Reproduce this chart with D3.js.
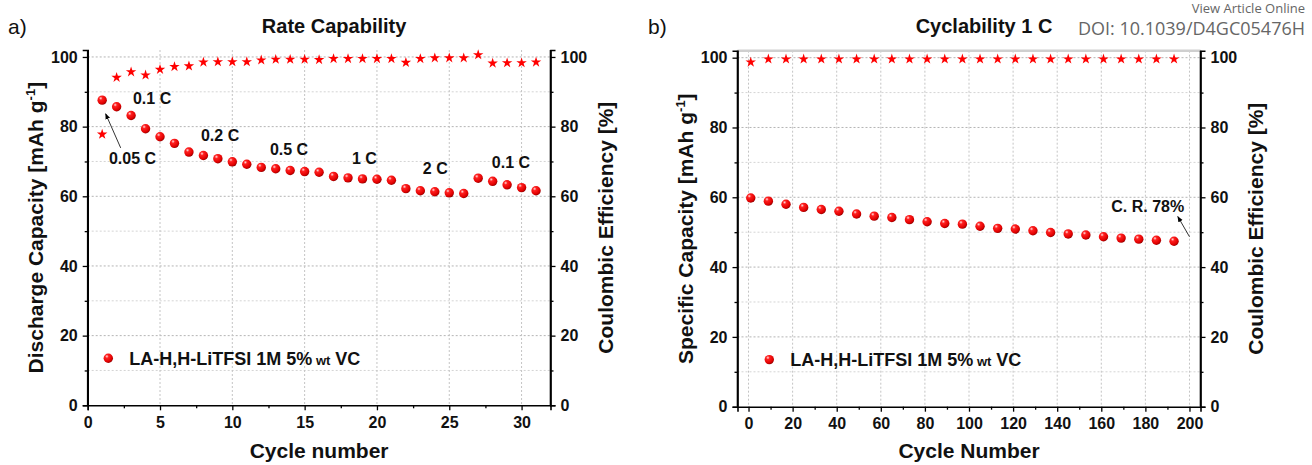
<!DOCTYPE html>
<html lang="en">
<head>
<meta charset="UTF-8">
<title>Rate Capability / Cyclability</title>
<style>
    body { margin: 0; background: #fff; }
    svg text { font-family: "Liberation Sans", Arial, sans-serif; }
</style>
</head>
<body>
<svg id="chart" width="1312" height="465"></svg>
<script src="https://cdn.jsdelivr.net/npm/d3@7"></script>
<script>
    // ---- data ----
    const rateCycles = [1, 2, 3, 4, 5, 6, 7, 8, 9, 10, 11, 12, 13, 14, 15, 16,
        17, 18, 19, 20, 21, 22, 23, 24, 25, 26, 27, 28, 29, 30, 31];
    const rateCapacity = [87.6, 85.7, 83.2, 79.4, 77.1, 75.2, 72.7, 71.7, 70.8, 69.9, 69.2,
        68.3, 67.9, 67.4, 67.1, 66.9, 65.7, 65.3, 65.0, 64.9, 64.6,
        62.2, 61.6, 61.3, 61.0, 60.8, 65.2, 64.3, 63.3, 62.5, 61.6];
    const rateCE = [77.8, 94.1, 95.7, 94.8, 96.4, 97.2, 97.4, 98.5, 98.6, 98.6, 98.6,
        99.1, 99.3, 99.3, 99.3, 99.2, 99.5, 99.5, 99.5, 99.5, 99.5,
        98.4, 99.5, 99.7, 99.7, 99.7, 100.6, 98.2, 98.3, 98.3, 98.5];
    const rateLabels = ["0.1 C", "0.2 C", "0.5 C", "1 C", "2 C", "0.1 C", "0.05 C"];
    const rateLabelAt = [[3.13, 86.4], [7.83, 76.0], [12.6, 72.0], [18.27, 69.4],
        [23.17, 66.3], [27.94, 68.0], [1.47, 69.4]];

    const cycCycles = [1, 9, 17, 25, 33, 41, 49, 57, 65, 73, 81, 89, 97, 105, 113,
        121, 129, 137, 145, 153, 161, 169, 177, 185, 193];
    const cycCapacity = [59.8, 58.9, 58.0, 57.1, 56.5, 56.0, 55.2, 54.6, 54.2, 53.6, 53.0,
        52.5, 52.3, 51.7, 51.1, 50.9, 50.4, 49.9, 49.5, 49.2, 48.7, 48.3, 48.0, 47.7, 47.4];
    const cycCE = [98.7, 99.6, 99.6, 99.6, 99.6, 99.6, 99.6, 99.6, 99.6, 99.6, 99.6,
        99.6, 99.6, 99.6, 99.6, 99.6, 99.6, 99.6, 99.6, 99.6, 99.6, 99.6, 99.6, 99.6, 99.6];

    const yTicks = [0, 20, 40, 60, 80, 100];
    const yMinor = [10, 30, 50, 70, 90];
    const rateXTicks = [0, 5, 10, 15, 20, 25, 30];
    const rateXMinor = [2.5, 7.5, 12.5, 17.5, 22.5, 27.5];
    const cycXTicks = [0, 20, 40, 60, 80, 100, 120, 140, 160, 180, 200];
    const cycXMinor = [10, 30, 50, 70, 90, 110, 130, 150, 170, 190];
    const legendText = "LA-H,H-LiTFSI 1M 5%";

    const svg = d3.select("#chart");
    const defs = svg.append("defs");

    const grad = defs.append("radialGradient").attr("id", "ball")
        .attr("cx", "35%").attr("cy", "30%").attr("r", "75%");
    grad.append("stop").attr("offset", "0%").attr("stop-color", "#ffe0e0");
    grad.append("stop").attr("offset", "25%").attr("stop-color", "#ff2020");
    grad.append("stop").attr("offset", "75%").attr("stop-color", "#e00000");
    grad.append("stop").attr("offset", "100%").attr("stop-color", "#8a0000");

    defs.append("marker").attr("id", "arrow")
        .attr("viewBox", "0 0 10 10").attr("refX", 9).attr("refY", 5)
        .attr("markerWidth", 6).attr("markerHeight", 6)
        .attr("markerUnits", "userSpaceOnUse")
        .attr("orient", "auto")
        .append("path").attr("d", "M0,1 L10,5 L0,9 Z").attr("fill", "#000");

    const star = d3.symbol().type(d3.symbolStar).size(34);

    function panel(o) {
        const x = d3.scaleLinear().domain(o.xDomain).range([o.left, o.right]);
        const y = d3.scaleLinear().domain([0, 102]).range([o.bottom, o.top]);
        const g = svg.append("g");

        // grid
        g.append("g").selectAll("line").data(yMinor).join("line")
            .attr("x1", o.left).attr("x2", o.right)
            .attr("y1", d => y(d)).attr("y2", d => y(d))
            .attr("stroke", "#d4d4d4").attr("stroke-dasharray", "2,2");
        g.append("g").selectAll("line").data(yTicks.slice(1)).join("line")
            .attr("x1", o.left).attr("x2", o.right)
            .attr("y1", d => y(d)).attr("y2", d => y(d))
            .attr("stroke", "#b4b4b4").attr("stroke-dasharray", "2,2");
        g.append("g").selectAll("line").data(o.xTicks.filter(d => x(d) > o.left + 1)).join("line")
            .attr("x1", d => x(d)).attr("x2", d => x(d))
            .attr("y1", o.top).attr("y2", o.bottom)
            .attr("stroke", "#c4c4c4").attr("stroke-dasharray", "2,2");

        if (o.topBorder) {
            g.append("line").attr("x1", o.left).attr("x2", o.right)
                .attr("y1", o.top).attr("y2", o.top)
                .attr("stroke", "#cfcfcf").attr("stroke-width", 2.5);
        }

        // axes
        const fmt = d3.format("d");
        const axes = [
            [d3.axisBottom(x).tickValues(o.xTicks).tickSize(5).tickPadding(6).tickFormat(fmt), `translate(0,${o.bottom})`, true],
            [d3.axisBottom(x).tickValues(o.xMinor).tickSize(3).tickFormat(""), `translate(0,${o.bottom})`, false],
            [d3.axisLeft(y).tickValues(yTicks).tickSize(5).tickPadding(5).tickFormat(fmt), `translate(${o.left},0)`, true],
            [d3.axisLeft(y).tickValues(yMinor).tickSize(3).tickFormat(""), `translate(${o.left},0)`, false],
            [d3.axisRight(y).tickValues(yTicks).tickSize(5).tickPadding(5).tickFormat(fmt), `translate(${o.right},0)`, true],
            [d3.axisRight(y).tickValues(yMinor).tickSize(3).tickFormat(""), `translate(${o.right},0)`, false]
        ];
        axes.forEach(([ax, tr, major]) => {
            const a = g.append("g").attr("transform", tr).call(ax);
            a.select(".domain").attr("stroke-width", major ? 1.6 : 0).attr("stroke", "#000");
            a.selectAll(".tick line").attr("stroke-width", 1.3).attr("stroke", "#000");
            a.selectAll(".tick text").attr("font-size", 16).attr("font-weight", "bold")
                .attr("fill", "#111").style("font-family", '"Liberation Sans", Arial, sans-serif');
        });
        // y axes run up to the top of the frame
        g.append("line").attr("x1", o.left).attr("x2", o.left).attr("y1", o.top).attr("y2", o.bottom)
            .attr("stroke", "#000").attr("stroke-width", 1.6);
        g.append("line").attr("x1", o.right).attr("x2", o.right).attr("y1", o.top).attr("y2", o.bottom)
            .attr("stroke", "#000").attr("stroke-width", 1.6);

        // CE stars
        g.append("g").selectAll("path").data(o.cycles).join("path")
            .attr("d", star)
            .attr("transform", (d, i) => `translate(${x(d)},${y(o.ce[i])})`)
            .attr("fill", "#ff0000");

        // capacity balls
        g.append("g").selectAll("circle").data(o.cycles).join("circle")
            .attr("cx", d => x(d)).attr("cy", (d, i) => y(o.cap[i]))
            .attr("r", 4.7).attr("fill", "url(#ball)");

        // legend
        const lg = g.append("g");
        lg.append("circle").attr("cx", o.left + o.legendDx).attr("cy", y(13.5))
            .attr("r", 4.7).attr("fill", "url(#ball)");
        const lt = lg.append("text").attr("x", o.left + o.legendDx + 21).attr("y", y(13.5) + 6.5)
            .attr("font-size", 18).attr("font-weight", "bold").attr("fill", "#111");
        lt.append("tspan").text(legendText);
        lt.append("tspan").attr("font-size", 13).text(" wt");
        lt.append("tspan").text(" VC");

        // titles
        const title = (txt, tx, ty, rot, size) => svg.append("text")
            .attr("transform", `translate(${tx},${ty}) rotate(${rot})`)
            .attr("text-anchor", "middle")
            .attr("font-size", size).attr("font-weight", "bold").attr("fill", "#111")
            .text(txt);

        title(o.xTitle, (o.left + o.right) / 2, 458, 0, 21);
        title(o.title, (o.left + o.right) / 2 + 15, 33, 0, 20);
        title("Coulombic Efficiency [%]", o.right + 62, (o.top + o.bottom) / 2, -90, 21);
        const yl = title(null, o.left - 45, (o.top + o.bottom) / 2, -90, 21);
        yl.append("tspan").text(o.yTitle + " [mAh g");
        yl.append("tspan").attr("font-size", 13).attr("dy", -8).text("-1");
        yl.append("tspan").attr("dy", 8).text("]");

        svg.append("text").attr("x", o.tagX).attr("y", 34)
            .attr("font-size", 21).attr("fill", "#111").text(o.tag);

        return {x, y, g};
    }

    const a = panel({
        left: 87.7, right: 550.5, top: 50, bottom: 405.3,
        xDomain: [0, 32], xTicks: rateXTicks, xMinor: rateXMinor,
        cycles: rateCycles, cap: rateCapacity, ce: rateCE,
        title: "Rate Capability", xTitle: "Cycle number", yTitle: "Discharge Capacity",
        tag: "a)", tagX: 8, legendDx: 20.6, topBorder: false
    });

    a.g.append("g").selectAll("text").data(rateLabels).join("text")
        .attr("x", (d, i) => a.x(rateLabelAt[i][0]))
        .attr("y", (d, i) => a.y(rateLabelAt[i][1]))
        .attr("font-size", 16).attr("font-weight", "bold").attr("fill", "#111")
        .text(d => d);
    a.g.append("line")
        .attr("x1", a.x(2.28)).attr("y1", a.y(73.9))
        .attr("x2", a.x(1.24)).attr("y2", a.y(83.7))
        .attr("stroke", "#000").attr("stroke-width", 0.8)
        .attr("marker-end", "url(#arrow)");

    const b = panel({
        left: 737.5, right: 1200.5, top: 50.7, bottom: 406.7,
        xDomain: [-5, 205], xTicks: cycXTicks, xMinor: cycXMinor,
        cycles: cycCycles, cap: cycCapacity, ce: cycCE,
        title: "Cyclability 1 C", xTitle: "Cycle Number", yTitle: "Specific Capacity",
        tag: "b)", tagX: 648, legendDx: 31.8, topBorder: true
    });

    b.g.append("text")
        .attr("x", b.x(197.6)).attr("y", b.y(55.8))
        .attr("text-anchor", "end")
        .attr("font-size", 16).attr("font-weight", "bold").attr("fill", "#111")
        .text("C. R. 78%");
    b.g.append("line")
        .attr("x1", b.x(200)).attr("y1", b.y(48.7))
        .attr("x2", b.x(194.7)).attr("y2", b.y(54.5))
        .attr("stroke", "#000").attr("stroke-width", 0.8)
        .attr("marker-end", "url(#arrow)");

    // journal watermark
    svg.append("text").attr("x", 1305).attr("y", 13).attr("text-anchor", "end")
        .style("font-family", '"Open Sans", sans-serif')
        .attr("font-size", 13).attr("fill", "#666").text("View Article Online");
    svg.append("text").attr("x", 1305).attr("y", 35).attr("text-anchor", "end")
        .style("font-family", '"Open Sans", sans-serif')
        .attr("font-size", 18).attr("fill", "#666").text("DOI: 10.1039/D4GC05476H");
</script>
</body>
</html>
